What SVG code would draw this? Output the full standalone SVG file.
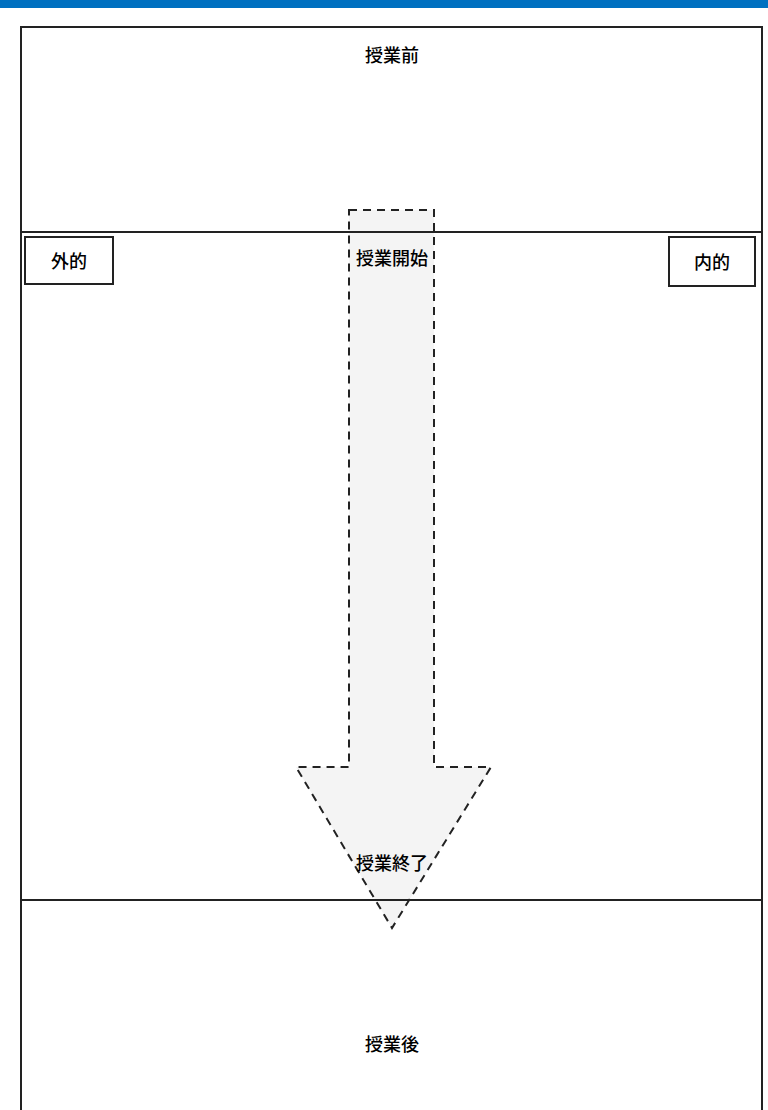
<svg xmlns="http://www.w3.org/2000/svg" width="768" height="1110" viewBox="0 0 768 1110">
<style>
.ln{stroke:#222;stroke-width:2;fill:none}
.bx{stroke:#222;stroke-width:2;fill:#fff}
.t{font-family:"Noto Sans CJK JP","Noto Sans CJK SC",sans-serif;font-size:18px;font-weight:500;fill:#000;text-anchor:middle;dominant-baseline:central}
.arr{fill:#f4f4f4;stroke:#222;stroke-width:2;stroke-dasharray:8 6}
</style>
<rect x="0" y="0" width="768" height="1110" fill="#fff"/>
<rect x="0" y="0" width="768" height="8" fill="#0070c0"/>
<g id="connectors">
<path class="arr" d="M349,210 H434 V767 H491 L392,928 L296,767 H349 Z"/>
</g>
<g id="frame">
<path class="ln" d="M21,1112 V27 H762 V1112"/>
<line class="ln" x1="21" y1="232" x2="762" y2="232"/>
<line class="ln" x1="21" y1="900" x2="762" y2="900"/>
</g>
<g id="before"><text class="t" x="392" y="54">授業前</text></g>
<g id="start"><text class="t" x="392" y="257">授業開始</text></g>
<g id="end"><text class="t" x="392" y="862">授業終了</text></g>
<g id="after"><text class="t" x="392" y="1043">授業後</text></g>
<g id="external"><rect class="bx" x="25" y="237" width="88" height="47"/><text class="t" x="69" y="260">外的</text></g>
<g id="internal"><rect class="bx" x="669" y="237" width="86" height="49"/><text class="t" x="712" y="261">内的</text></g>
</svg>
